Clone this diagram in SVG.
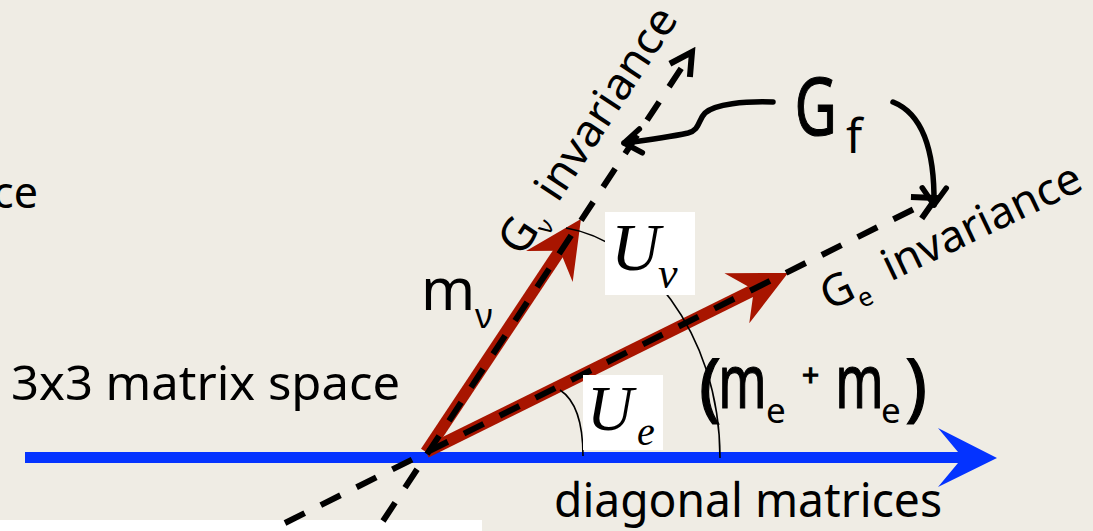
<svg xmlns="http://www.w3.org/2000/svg" width="1093" height="531" viewBox="0 0 1093 531">
<style>
.txt{font-family:"Comic Sans MS","Noto Sans",sans-serif;fill:#000}
.heavy{stroke:#000;stroke-width:1.2}
.math{font-family:"Liberation Serif","Times New Roman",serif;font-style:italic;fill:#000}
.red{stroke:#a81500;stroke-width:12;fill:none}
.dash{stroke:#000;stroke-width:6;stroke-dasharray:22 18;fill:none}
.thin{stroke:#000;stroke-width:1.6;fill:none}
.curve{stroke:#000;stroke-width:5.5;fill:none;stroke-linecap:round;stroke-linejoin:round}
.box{fill:#fff}
</style>
<defs>
<marker id="redHead" markerUnits="userSpaceOnUse" viewBox="-60 -30 62 60" markerWidth="62" markerHeight="60" refX="-38" refY="0" orient="auto">
<path d="M0,0 L-57,-28 L-38,0 L-57,28 Z" fill="#a81500"/>
</marker>
<marker id="openHead" markerUnits="userSpaceOnUse" viewBox="-28 -18 34 36" markerWidth="34" markerHeight="36" refX="0" refY="0" orient="auto">
<path d="M-22,-12 L0,0 L-22,12" fill="none" stroke="#000" stroke-width="6" stroke-linecap="butt" stroke-linejoin="miter"/>
</marker>
<marker id="curveHead" markerUnits="userSpaceOnUse" viewBox="-24 -18 30 36" markerWidth="30" markerHeight="36" refX="0" refY="0" orient="auto">
<path d="M-17,-12 L0,0 L-17,12" fill="none" stroke="#000" stroke-width="5.5" stroke-linecap="round" stroke-linejoin="round"/>
</marker>
</defs>
<rect x="0" y="0" width="1093" height="531" fill="#efece4"/>
<rect x="0" y="520" width="482" height="11" fill="#ffffff"/>

<g id="connectors">
<g id="diagonal-axis">
<line x1="25" y1="457.5" x2="959" y2="457.5" stroke="#0433ff" stroke-width="11"/>
<polygon points="997,458 938,428 958,452 958,463 938,487" fill="#0433ff"/>
</g>
<line id="m-nu-arrow" class="red" x1="426" y1="452" x2="559.9" y2="250.7" marker-end="url(#redHead)"/>
<line id="m-e-arrow" class="red" x1="426" y1="452" x2="753.9" y2="289.8" marker-end="url(#redHead)"/>
<line id="g-nu-line" class="dash" x1="383" y1="521" x2="692" y2="52" marker-end="url(#openHead)"/>
<line id="g-e-line" class="dash" x1="285" y1="523" x2="936" y2="198" marker-end="url(#openHead)"/>
<path id="gf-to-gnu" class="curve" d="M773,102 C745,101 715,104 705,113 C698,120 700,130 688,133 C665,138 640,141 624,143" marker-end="url(#curveHead)"/>
<path id="gf-to-ge" class="curve" d="M893,102 C918,112 935,140 934,205" marker-end="url(#curveHead)"/>
<path id="u-e-angle" class="thin" d="M560,390 Q583,405 583,456"/>
<path id="u-nu-angle" class="thin" d="M566,228 C640,240 720,330 720,458"/>
</g>

<g id="label-ce"><text class="txt" x="38" y="208" font-size="43" text-anchor="end">ce</text></g>
<g id="label-space"><text class="txt" x="11" y="400" font-size="48" textLength="389" lengthAdjust="spacingAndGlyphs">3x3 matrix space</text></g>
<g id="label-diagonal"><text class="txt" x="554" y="517" font-size="48" textLength="388" lengthAdjust="spacingAndGlyphs">diagonal matrices</text></g>

<g id="label-m-nu">
<text class="txt" x="421" y="310" font-size="58">m</text>
<text class="txt" x="475" y="328" font-size="34">ν</text>
</g>

<g id="label-gf">
<text class="txt heavy" transform="translate(798,135) scale(0.72,1)" x="-5" y="0" font-size="81">G</text>
<text class="txt" x="846" y="153" font-size="47">f</text>
</g>

<g id="label-g-nu" transform="translate(522,258) rotate(-56.7)">
<text class="txt" x="0" y="0" font-size="46">G</text>
<text class="txt" x="33" y="10" font-size="24">ν</text>
<text class="txt" x="65" y="0" font-size="44" textLength="221" lengthAdjust="spacingAndGlyphs">invariance</text>
</g>

<g id="label-g-e" transform="translate(829,311) rotate(-25.5)">
<text class="txt" x="0" y="0" font-size="44">G</text>
<text class="txt" x="31" y="12" font-size="26">e</text>
<text class="txt" x="68" y="0" font-size="44" textLength="216" lengthAdjust="spacingAndGlyphs">invariance</text>
</g>

<g id="label-me-me">
<text class="txt heavy" x="699" y="412" font-size="74">(</text>
<text class="txt heavy" transform="translate(723,408) scale(0.7,1)" x="-6.7" y="0" font-size="74">m</text>
<text class="txt" x="766" y="423" font-size="35">e</text>
<text class="txt heavy" x="802" y="386" font-size="30">+</text>
<text class="txt heavy" transform="translate(840,408) scale(0.7,1)" x="-6.7" y="0" font-size="74">m</text>
<text class="txt" x="881" y="423" font-size="35">e</text>
<text class="txt heavy" x="905" y="412" font-size="74">)</text>
</g>

<g id="label-u-nu">
<rect class="box" x="605" y="212" width="90" height="83"/>
<text class="math" x="611" y="270" font-size="68">U</text>
<text class="math" x="658" y="288" font-size="44">ν</text>
</g>

<g id="label-u-e">
<rect class="box" x="583" y="375" width="80" height="75"/>
<text class="math" x="587" y="430" font-size="64">U</text>
<text class="math" x="637" y="445" font-size="40">e</text>
</g>
</svg>
